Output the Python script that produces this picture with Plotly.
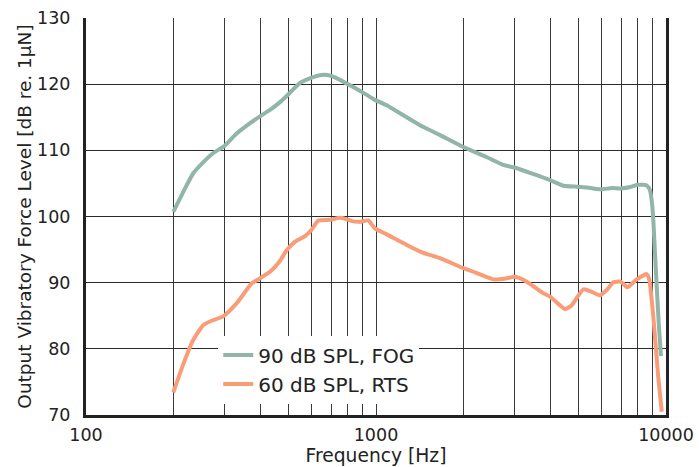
import plotly.graph_objects as go

# ---- data ----
fog_freq = [200, 217, 234, 255, 275, 300, 330, 368, 400, 431, 470, 497, 547, 600, 650, 694,
            740, 792, 850, 920, 984, 1100, 1210, 1418, 1663, 2000, 2400, 2748, 3000, 3500,
            3981, 4425, 5000, 5500, 6000, 6500, 7000, 7600, 8000, 8580, 8800, 8950, 9040,
            9150, 9300, 9450, 9610]
fog_level = [100.7, 103.8, 106.5, 108.3, 109.6, 110.65, 112.5, 114.1, 115.2, 116.1, 117.4, 118.4,
             120.2, 121.0, 121.4, 121.3, 120.8, 120.1, 119.4, 118.5, 117.7, 116.7, 115.6, 113.8,
             112.3, 110.5, 109.0, 107.8, 107.4, 106.4, 105.5, 104.65, 104.5, 104.3, 104.1, 104.3,
             104.25, 104.5, 104.8, 104.7, 104.0, 102.0, 99.5, 95.0, 89.0, 83.5, 78.9]

rts_freq = [200, 217, 234, 254, 271, 297, 331, 373, 398, 431, 465, 492, 526, 569, 600, 632,
            694, 751, 790, 825, 881, 940, 992, 1089, 1276, 1456, 1663, 2000, 2165, 2538, 2770,
            3015, 3310, 3775, 3981, 4250, 4486, 4731, 5188, 5550, 5918, 6245, 6580, 6980, 7355,
            7925, 8580, 8760, 9040, 9400, 9670]
rts_level = [73.4, 77.8, 81.3, 83.6, 84.25, 84.9, 86.9, 89.9, 90.65, 91.65, 93.2, 94.9, 96.2,
             97.05, 98.0, 99.4, 99.5, 99.8, 99.6, 99.3, 99.2, 99.4, 98.2, 97.3, 95.7, 94.5, 93.7,
             92.2, 91.65, 90.5, 90.6, 90.9, 90.15, 88.4, 87.9, 86.8, 86.0, 86.6, 89.0, 88.6, 88.1,
             88.9, 90.05, 90.15, 89.3, 90.5, 91.3, 90.4, 84.9, 75.8, 70.5]

fog_name = "90 dB SPL, FOG"
rts_name = "60 dB SPL, RTS"

x_tickvals = [100, 200, 300, 400, 500, 600, 700, 800, 900,
              1000, 2000, 3000, 4000, 5000, 6000, 7000, 8000, 9000, 10000]
x_ticktext = ["100", "", "", "", "", "", "", "", "",
              "1000", "", "", "", "", "", "", "", "", "10000"]
y_tickvals = [70, 80, 90, 100, 110, 120, 130]

green = "#91B5A7"
orange = "#F99D78"
ink = "#222222"
font_family = "DejaVu Sans"

fig = go.Figure()
fig.add_trace(go.Scatter(x=fog_freq, y=fog_level, mode="lines", name=fog_name,
                         line=dict(color=green, width=4, shape="spline", smoothing=0.5)))
fig.add_trace(go.Scatter(x=rts_freq, y=rts_level, mode="lines", name=rts_name,
                         line=dict(color=orange, width=4, shape="spline", smoothing=0.5)))

fig.update_layout(
    width=699, height=467,
    margin=dict(l=86, r=33, t=18, b=52),
    paper_bgcolor="white", plot_bgcolor="white",
    font=dict(family=font_family, color=ink, size=17),
    showlegend=True,
    legend=dict(x=0.228, y=0.2, xanchor="left", yanchor="top",
                bgcolor="white", borderwidth=0,
                font=dict(size=20, family=font_family, color=ink),
                tracegroupgap=0, itemwidth=30),
)
fig.update_xaxes(
    type="log", range=[2, 4], automargin=False,
    tickvals=x_tickvals, ticktext=x_ticktext, ticks="",
    showgrid=True, gridcolor="#3a3a3a", gridwidth=1,
    showline=True, linecolor=ink, linewidth=3,
    zeroline=False, ticklabelstandoff=2,
    tickfont=dict(size=17.5),
    title=dict(text="Frequency [Hz]", font=dict(size=18.7), standoff=0),
)
fig.update_yaxes(
    range=[70, 130], tickvals=y_tickvals, ticks="", automargin=False,
    showgrid=True, gridcolor="#2a2a2a", gridwidth=1.4,
    showline=True, linecolor=ink, linewidth=3, mirror=True,
    zeroline=False, ticklabelstandoff=9,
    tickfont=dict(size=17.5),
    title=dict(text="Output Vibratory Force Level [dB re. 1μN]", font=dict(size=18.5), standoff=1),
)

fig.write_html("out.html", config={"displayModeBar": False},
               post_script="document.body.style.margin='0px';")
